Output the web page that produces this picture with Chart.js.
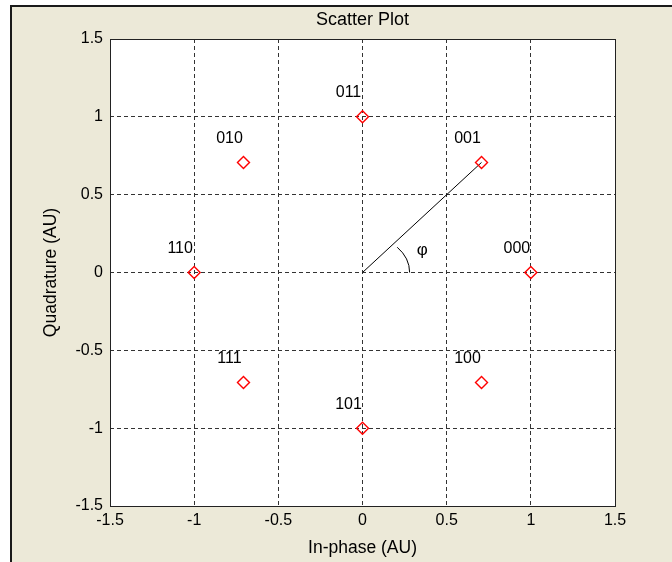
<!DOCTYPE html>
<html lang="en">
<head>
    <meta charset="UTF-8">
    <title>Scatter Plot</title>
    <script src="https://cdn.jsdelivr.net/npm/chart.js"></script>
    <style>
        body { margin: 0; background: #ffffff; }
        canvas { display: block; }
    </style>
</head>
<body>
    <canvas id="scatter" width="672" height="562"></canvas>

    <script>
        // Constellation 8-PSK
        const symbolLabels = ['000', '001', '011', '010', '110', '111', '101', '100'];
        const inPhase = [1, 0.707, 0, -0.707, -1, -0.707, 0, 0.707];
        const quadrature = [0, 0.707, 1, 0.707, 0, -0.707, -1, -0.707];
        const tickValues = [-1.5, -1, -0.5, 0, 0.5, 1, 1.5];

        // linea del angulo phi (origen -> simbolo 001)
        const phaseLineX = [0, 0.707];
        const phaseLineY = [0, 0.707];

        const FONT = '"Liberation Sans", Arial, sans-serif';

        const fondo = {
            id: 'fondo',
            beforeDraw(chart) {
                const ctx = chart.ctx;
                const a = chart.chartArea;
                ctx.save();
                ctx.fillStyle = '#ffffff';
                ctx.fillRect(0, 0, chart.width, chart.height);
                ctx.fillStyle = '#ece9d8';
                ctx.fillRect(10, 5, chart.width - 10, chart.height - 5);
                ctx.fillStyle = '#1a1a1a';
                ctx.fillRect(10, 5, 2, chart.height - 5);
                ctx.fillRect(10, 5, chart.width - 10, 2);
                ctx.fillStyle = '#ffffff';
                ctx.fillRect(a.left, a.top, a.right - a.left, a.bottom - a.top);
                ctx.restore();
            },
            afterDraw(chart) {
                const ctx = chart.ctx;
                const a = chart.chartArea;
                const x = chart.scales.x, y = chart.scales.y;
                ctx.save();
                // caja
                ctx.strokeStyle = '#222222';
                ctx.lineWidth = 1;
                ctx.strokeRect(a.left + 0.5, a.top + 0.5, a.right - a.left, a.bottom - a.top);

                ctx.fillStyle = '#000000';
                ctx.textAlign = 'center';
                ctx.textBaseline = 'middle';
                ctx.font = '18px ' + FONT;
                ctx.fillText('Scatter Plot', (a.left + a.right) / 2, 20);
                ctx.font = '17.5px ' + FONT;
                ctx.fillText('In-phase (AU)', (a.left + a.right) / 2, 548);
                ctx.save();
                ctx.translate(51, (a.top + a.bottom) / 2);
                ctx.rotate(-Math.PI / 2);
                ctx.fillText('Quadrature (AU)', 0, 0);
                ctx.restore();

                // etiquetas de los simbolos
                ctx.font = '16px ' + FONT;
                for (let i = 0; i < symbolLabels.length; i++) {
                    const px = x.getPixelForValue(inPhase[i]) - 14;
                    const py = y.getPixelForValue(quadrature[i]) - 24;
                    ctx.fillText(symbolLabels[i], px, py);
                }

                // arco del angulo
                const x0 = x.getPixelForValue(0), y0 = y.getPixelForValue(0);
                const rx = x.getPixelForValue(0.28) - x0;
                const ry = y0 - y.getPixelForValue(0.24);
                const ang = Math.atan2(rx * 0.95, ry * 1.1);
                ctx.beginPath();
                ctx.strokeStyle = '#000000';
                ctx.ellipse(x0, y0, rx, ry, 0, -Math.PI / 2 + ang, 0);
                ctx.stroke();

                ctx.font = '17px ' + FONT;
                ctx.fillText('φ', x.getPixelForValue(0.355), y.getPixelForValue(0.14));
                ctx.restore();
            }
        };

        const ctx = document.getElementById('scatter').getContext('2d');
        const grid = {
            color: '#333333',
            lineWidth: 1,
            drawTicks: false
        };
        const myChart = new Chart(ctx, {
            type: 'scatter',
            data: {
                datasets: [{
                    label: 'Simbolos',
                    data: inPhase.map((v, i) => ({ x: v, y: quadrature[i] })),
                    pointStyle: 'rectRot',
                    pointRadius: 6,
                    pointHoverRadius: 6,
                    borderColor: '#ff0000',
                    pointBorderColor: '#ff0000',
                    backgroundColor: 'rgba(255,255,255,0)',
                    pointBackgroundColor: 'rgba(255,255,255,0)',
                    borderWidth: 1.4,
                    pointBorderWidth: 1.4
                }, {
                    label: 'Fase',
                    data: phaseLineX.map((v, i) => ({ x: v, y: phaseLineY[i] })),
                    showLine: true,
                    pointRadius: 0,
                    borderColor: '#000000',
                    borderWidth: 1
                }]
            },
            options: {
                responsive: false,
                animation: false,
                layout: { padding: { left: 0, top: 39, right: 57, bottom: 0 } },
                plugins: {
                    legend: { display: false },
                    tooltip: { enabled: false }
                },
                scales: {
                    x: {
                        type: 'linear',
                        min: -1.5,
                        max: 1.5,
                        afterBuildTicks: s => { s.ticks = tickValues.map(v => ({ value: v })); },
                        afterFit: s => { s.height = 56; },
                        border: { display: false, dash: [4, 3] },
                        grid: grid,
                        ticks: {
                            color: '#000000',
                            padding: 5,
                            maxRotation: 0,
                            callback: v => String(v),
                            font: { family: FONT, size: 16 }
                        }
                    },
                    y: {
                        type: 'linear',
                        min: -1.5,
                        max: 1.5,
                        afterBuildTicks: s => { s.ticks = tickValues.map(v => ({ value: v })); },
                        afterFit: s => { s.width = 110; },
                        border: { display: false, dash: [4, 3] },
                        grid: grid,
                        ticks: {
                            color: '#000000',
                            padding: 7,
                            callback: v => String(v),
                            font: { family: FONT, size: 16 }
                        }
                    }
                }
            },
            plugins: [fondo]
        });
    </script>
</body>
</html>
